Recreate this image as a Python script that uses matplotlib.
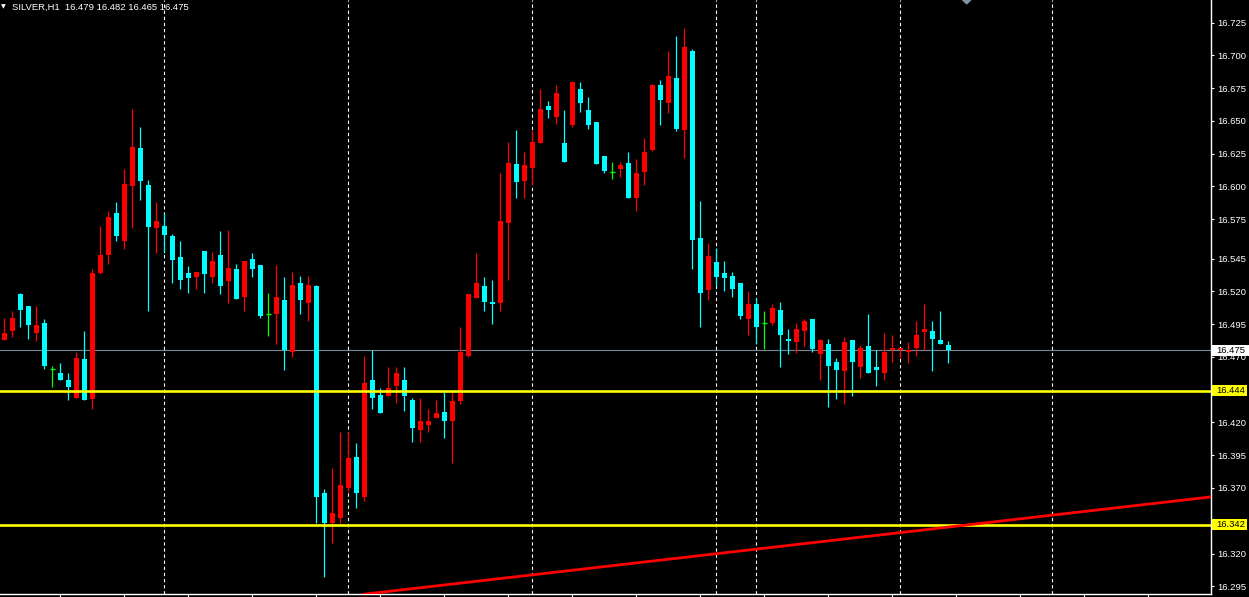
import matplotlib
matplotlib.use('Agg')
import matplotlib.pyplot as plt
from matplotlib.patches import Rectangle, Polygon
from matplotlib.transforms import blended_transform_factory
import numpy as np

plt.rcParams['font.family'] = ['Liberation Sans', 'DejaVu Sans']

# SILVER H1 candles (oldest first)
opens = [16.483, 16.490, 16.518, 16.509, 16.488, 16.496, 16.461, 16.458, 16.452, 16.439,
         16.468, 16.438, 16.534, 16.548, 16.580, 16.558, 16.600, 16.629, 16.601, 16.568,
         16.570, 16.562, 16.546, 16.534, 16.531, 16.551, 16.531, 16.548, 16.528, 16.537,
         16.516, 16.545, 16.540, 16.503, 16.503, 16.513, 16.474, 16.526, 16.511, 16.524,
         16.366, 16.343, 16.347, 16.370, 16.394, 16.363, 16.452, 16.441, 16.440, 16.448,
         16.452, 16.437, 16.414, 16.418, 16.423, 16.428, 16.421, 16.436, 16.471, 16.515,
         16.524, 16.512, 16.511, 16.572, 16.617, 16.604, 16.614, 16.633, 16.661, 16.653,
         16.633, 16.647, 16.674, 16.658, 16.649, 16.623, 16.611, 16.613, 16.618, 16.591,
         16.611, 16.628, 16.677, 16.664, 16.683, 16.643, 16.703, 16.561, 16.521, 16.542,
         16.534, 16.532, 16.526, 16.499, 16.510, 16.496, 16.496, 16.506, 16.484, 16.481,
         16.490, 16.499, 16.472, 16.480, 16.466, 16.459, 16.483, 16.462, 16.478, 16.462,
         16.458, 16.475, 16.475, 16.474, 16.477, 16.489, 16.490, 16.483, 16.479]
highs = [16.500, 16.505, 16.519, 16.509, 16.509, 16.499, 16.463, 16.465, 16.458, 16.474,
         16.490, 16.537, 16.570, 16.581, 16.588, 16.613, 16.659, 16.645, 16.605, 16.588,
         16.580, 16.564, 16.558, 16.539, 16.535, 16.551, 16.550, 16.566, 16.567, 16.541,
         16.543, 16.549, 16.540, 16.519, 16.540, 16.531, 16.535, 16.532, 16.532, 16.525,
         16.369, 16.385, 16.413, 16.413, 16.404, 16.471, 16.475, 16.446, 16.462, 16.462,
         16.462, 16.439, 16.439, 16.430, 16.437, 16.443, 16.443, 16.493, 16.518, 16.549,
         16.531, 16.529, 16.610, 16.634, 16.643, 16.626, 16.643, 16.674, 16.665, 16.677,
         16.658, 16.680, 16.680, 16.668, 16.649, 16.623, 16.619, 16.619, 16.626, 16.621,
         16.637, 16.678, 16.681, 16.703, 16.715, 16.721, 16.705, 16.589, 16.557, 16.553,
         16.543, 16.535, 16.526, 16.520, 16.515, 16.505, 16.510, 16.512, 16.491, 16.496,
         16.499, 16.499, 16.484, 16.484, 16.469, 16.485, 16.483, 16.479, 16.503, 16.475,
         16.488, 16.487, 16.477, 16.481, 16.497, 16.510, 16.497, 16.505, 16.482]
lows = [16.483, 16.485, 16.493, 16.484, 16.482, 16.461, 16.447, 16.452, 16.437, 16.439,
        16.437, 16.430, 16.533, 16.541, 16.558, 16.552, 16.568, 16.590, 16.505, 16.549,
        16.549, 16.526, 16.522, 16.519, 16.522, 16.519, 16.526, 16.518, 16.511, 16.514,
        16.505, 16.531, 16.500, 16.486, 16.480, 16.460, 16.470, 16.503, 16.497, 16.343,
        16.302, 16.328, 16.343, 16.368, 16.355, 16.360, 16.430, 16.427, 16.440, 16.435,
        16.429, 16.405, 16.405, 16.413, 16.423, 16.408, 16.389, 16.434, 16.470, 16.515,
        16.505, 16.495, 16.505, 16.529, 16.591, 16.591, 16.601, 16.633, 16.652, 16.648,
        16.619, 16.645, 16.657, 16.644, 16.617, 16.610, 16.606, 16.607, 16.591, 16.581,
        16.601, 16.627, 16.647, 16.656, 16.642, 16.622, 16.537, 16.493, 16.513, 16.524,
        16.520, 16.516, 16.499, 16.487, 16.480, 16.476, 16.494, 16.462, 16.472, 16.473,
        16.478, 16.474, 16.452, 16.432, 16.438, 16.434, 16.440, 16.454, 16.458, 16.448,
        16.452, 16.466, 16.469, 16.465, 16.471, 16.475, 16.459, 16.480, 16.465]
closes = [16.488, 16.500, 16.506, 16.494, 16.494, 16.463, 16.461, 16.452, 16.447, 16.469,
          16.437, 16.534, 16.548, 16.577, 16.562, 16.602, 16.630, 16.604, 16.569, 16.574,
          16.563, 16.544, 16.529, 16.530, 16.535, 16.533, 16.543, 16.524, 16.538, 16.514,
          16.543, 16.537, 16.501, 16.503, 16.516, 16.475, 16.525, 16.513, 16.525, 16.363,
          16.343, 16.351, 16.372, 16.393, 16.366, 16.450, 16.439, 16.427, 16.446, 16.458,
          16.440, 16.416, 16.421, 16.421, 16.427, 16.421, 16.436, 16.474, 16.518, 16.526,
          16.512, 16.510, 16.574, 16.618, 16.603, 16.616, 16.634, 16.659, 16.658, 16.671,
          16.619, 16.680, 16.664, 16.647, 16.617, 16.612, 16.611, 16.616, 16.591, 16.610,
          16.626, 16.677, 16.666, 16.684, 16.644, 16.706, 16.559, 16.519, 16.547, 16.531,
          16.530, 16.522, 16.501, 16.510, 16.493, 16.496, 16.507, 16.487, 16.482, 16.491,
          16.497, 16.476, 16.483, 16.463, 16.460, 16.481, 16.466, 16.477, 16.458, 16.460,
          16.474, 16.477, 16.477, 16.475, 16.487, 16.491, 16.484, 16.480, 16.475]

separator_bars = [20, 43, 66, 89, 94, 112, 131]
support_levels = [16.444, 16.342]
bid_price = 16.475
trend_bars = [40, 150]
trend_prices = [16.2855, 16.3626]
price_ticks = [16.725, 16.700, 16.675, 16.650, 16.625, 16.600, 16.575, 16.545, 16.520,
               16.495, 16.470, 16.420, 16.395, 16.370, 16.320, 16.295]
title = "SILVER,H1  16.479 16.482 16.465 16.475"

W, H = 1249, 597
fig = plt.figure(figsize=(W / 100, H / 100), dpi=100, facecolor='black')
ax = fig.add_axes([0, 2.7 / H, 1211 / W, 594.3 / H])
ax.set_facecolor('black')

o = np.array(opens)
h = np.array(highs)
l = np.array(lows)
c = np.array(closes)
x = np.arange(len(o))

# red = up bar, cyan = down bar, green = doji
cols = np.where(c > o, '#ff0000', np.where(c < o, '#00ffff', '#00ff00'))
ax.vlines(x, l, h, colors=cols, linewidth=0.9, zorder=3)
body = c != o
ax.bar(x[body], np.maximum(np.abs(c - o)[body], 0.0009), width=0.625,
       bottom=np.minimum(o, c)[body], color=cols[body], linewidth=0, zorder=4)
ax.hlines(c[~body], x[~body] - 0.3125, x[~body] + 0.3125, colors='#00ff00',
          linewidth=1.0, zorder=4)

for b in separator_bars:
    ax.axvline(b, color='white', linewidth=0.8, linestyle=(0, (3, 2.5)), zorder=1)

for lvl in support_levels:
    ax.axhline(lvl, color='#ffff00', linewidth=1.9, zorder=5)
ax.axhline(bid_price, color='#778899', linewidth=0.8, zorder=2)
ax.axline((trend_bars[0], trend_prices[0]), (trend_bars[1], trend_prices[1]),
          color='#ff0000', linewidth=2.0, zorder=5)

ax.set_xlim(-0.54, 150.84)
ax.set_ylim(16.2889, 16.7422)

for side in ['left', 'top']:
    ax.spines[side].set_visible(False)
for side in ['right', 'bottom']:
    ax.spines[side].set_color('white')
    ax.spines[side].set_linewidth(1.0)

ax.set_xticks(np.arange(7, 151, 8))
ax.tick_params(axis='x', direction='out', length=3, color='white', labelbottom=False)
ax.yaxis.tick_right()
ax.set_yticks(price_ticks)
ax.set_yticklabels([f'{t:.3f}' for t in price_ticks])
ax.tick_params(axis='y', direction='out', length=2.2, color='white', labelcolor='white',
               labelsize=6.8, pad=2.4)

# price labels on the axis
tr = blended_transform_factory(ax.transAxes, ax.transData)
half = 5.5 / 1311
for price, face, w in [(bid_price, 'white', 37)] + [(p, '#ffff00', 35) for p in support_levels]:
    ax.add_patch(Rectangle((1212 / 1211, price - half), w / 1211, 2 * half,
                           transform=tr, facecolor=face, edgecolor='none',
                           clip_on=False, zorder=10))
    ax.text(1216 / 1211, price, f'{price:.3f}', transform=tr, color='black',
            fontsize=6.8, va='center', ha='left', clip_on=False, zorder=11)

fig.text(1 / W, 1 - 7 / H, '\u25bc', color='white', fontsize=4.5, va='center',
         ha='left', family='DejaVu Sans')
fig.text(12 / W, 1 - 7 / H, title, color='white', fontsize=6.8, va='center', ha='left')
fig.patches.append(Polygon([(961.7 / W, 1), (971.7 / W, 1), (966.7 / W, 1 - 4.7 / H)],
                           closed=True, transform=fig.transFigure,
                           facecolor='#8394a8', edgecolor='none'))

fig.savefig('out.png', dpi=100, facecolor='black')
